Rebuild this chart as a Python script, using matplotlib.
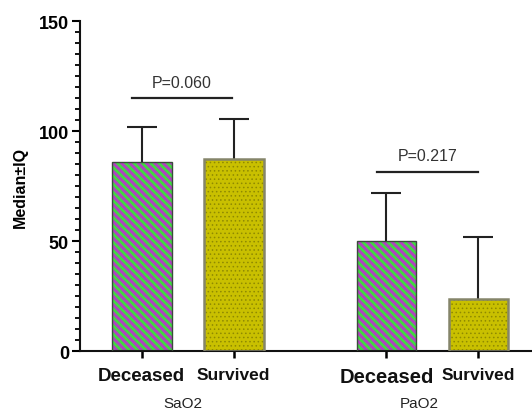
import numpy as np
import matplotlib
matplotlib.use('Agg')
import matplotlib.pyplot as plt

plt.rcParams['font.family'] = ['Liberation Sans', 'DejaVu Sans']

# valeurs
groupes = ['SaO2', 'PaO2']
etats = ['Deceased', 'Survived']
mediane = [86, 87.5, 50, 24]
iq_haut = [16, 18, 22, 28]
p_valeurs = ['P=0.060', 'P=0.217']
p_hauteur = [115, 81.7]

pos = np.array([0, 1, 2.66, 3.66])
larg = 0.65

fig = plt.figure(figsize=(5.32, 4.14), dpi=100)
ax = fig.add_axes([80/532, 61.7/414, 452/532, 330/414])

vert = '#3fdc3f'
magenta = '#b23fc2'
olive = '#c9c000'
olive_fonce = '#8f8a00'

# barres hachurées (décédés)
plt.rcParams['hatch.linewidth'] = 2.2
ax.bar(pos[[0, 2]], np.array(mediane)[[0, 2]], larg, color=vert,
       edgecolor=magenta, hatch='\\\\\\\\', linewidth=0, zorder=2)
ax.bar(pos[[0, 2]], np.array(mediane)[[0, 2]], larg, fill=False,
       edgecolor='#3a4a3a', linewidth=1.0, zorder=3)

# barres pointillées (survivants)
plt.rcParams['hatch.linewidth'] = 0.6
ax.bar(pos[[1, 3]], np.array(mediane)[[1, 3]], larg, color=olive,
       edgecolor=olive_fonce, hatch='....', linewidth=0, zorder=2)
ax.bar(pos[[1, 3]], np.array(mediane)[[1, 3]], larg, fill=False,
       edgecolor='#85856a', linewidth=1.8, zorder=3)

# barres d'erreur vers le haut seulement
eb = ax.errorbar(pos, mediane, yerr=[np.zeros(4), iq_haut], fmt='none',
                 ecolor='#222222', elinewidth=1.5, capsize=10.8, capthick=1.5, zorder=1)
for cap in eb[1]:
    if np.allclose(cap.get_ydata(), mediane):
        cap.set_visible(False)

# lignes de significativité
ax.plot([-0.11, 0.98], [p_hauteur[0]] * 2, color='#222222', lw=1.6, clip_on=False)
ax.plot([2.554, 3.66], [p_hauteur[1]] * 2, color='#222222', lw=1.6, clip_on=False)
ax.text(0.435, p_hauteur[0] + 7.3, p_valeurs[0], ha='center', va='center',
        fontsize=11.5, color='#333333')
ax.text(3.109, p_hauteur[1] + 7.1, p_valeurs[1], ha='center', va='center',
        fontsize=11.5, color='#333333')

ax.set_xlim(-0.6707, 4.242)
ax.set_ylim(0, 150)

for s in ['top', 'right']:
    ax.spines[s].set_visible(False)
for s in ['left', 'bottom']:
    ax.spines[s].set_linewidth(1.5)
    ax.spines[s].set_color('#111111')

ax.set_yticks([0, 50, 100, 150])
ax.set_yticks(np.arange(0, 151, 5), minor=True)
ax.tick_params(axis='y', which='major', length=6, width=1.5, labelsize=13, pad=2)
ax.tick_params(axis='y', which='minor', length=3.5, width=1.3)
for lab in ax.get_yticklabels():
    lab.set_fontweight('bold')

ax.set_xticks(pos)
ax.set_xticklabels(etats * 2)
ax.tick_params(axis='x', length=5, width=1.8, pad=6)
tailles = [13.5, 12.5, 14.5, 12.5]
for lab, t in zip(ax.get_xticklabels(), tailles):
    lab.set_fontweight('bold')
    lab.set_fontsize(t)
    lab.set_color('#111111')

ax.set_ylabel('Median±IQ', fontsize=11.5, fontweight='bold', labelpad=8)

# noms des groupes
ax.text(0.448, -0.158, groupes[0], transform=ax.get_xaxis_transform(),
        ha='center', va='center', fontsize=11, color='#222222')
ax.text(3.014, -0.158, groupes[1], transform=ax.get_xaxis_transform(),
        ha='center', va='center', fontsize=11, color='#222222')

fig.savefig('out.png', dpi=100)
